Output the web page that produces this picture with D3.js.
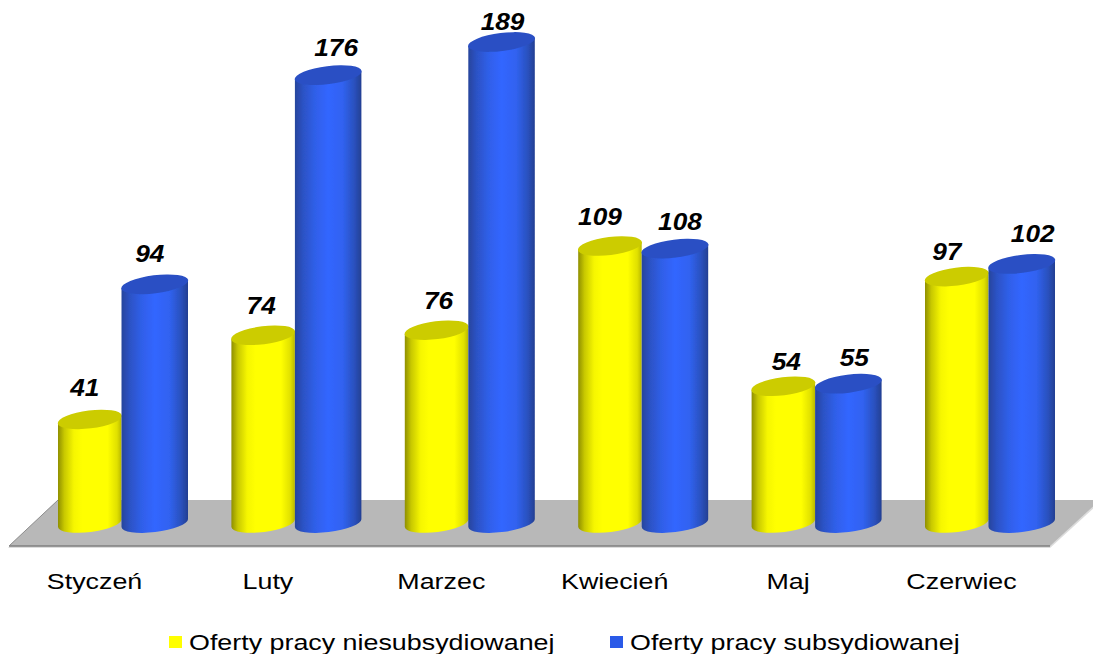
<!DOCTYPE html>
<html>
<head>
<meta charset="utf-8">
<script src="https://cdn.jsdelivr.net/npm/d3@7"></script>
<style>
    html, body { margin: 0; padding: 0; background: #fff; }
    svg { display: block; }
    text { font-family: "Liberation Sans", Arial, sans-serif; fill: #000; }
    .domain { display: none; }
</style>
</head>
<body>
<svg id="SVG_CONTAINER" width="1093" height="654"></svg>
<script>
const months = ["Styczeń", "Luty", "Marzec", "Kwiecień", "Maj", "Czerwiec"];
const seriesNames = ["Oferty pracy niesubsydiowanej", "Oferty pracy subsydiowanej"];
const unsubsidised = [41, 74, 76, 109, 54, 97];
const subsidised = [94, 176, 189, 108, 55, 102];

// hand placed value labels in the original, nudges from the top of each cylinder
const labelDxUnsub = [-5, -2, 2, -10, 3, -10];
const labelDxSub = [-5, 8, 1, 5, 6, 11];
const labelDyUnsub = [-3, -1, -1, -1, 4, 3];
const labelDySub = [-2, 1, 8, 1, 2, -2];

const width = 1093, height = 654;
const floorTop = 500, floorBottom = 546;
const baseY = 524, topY = 42;
const tilt = 8;   // how much the ellipses rise from left to right
const ry = 9;

const svg = d3.select("#SVG_CONTAINER");
const defs = svg.append("defs");

function addGradient(id, stops) {
    let g = defs.append("linearGradient").attr("id", id);
    stops.forEach(s => g.append("stop").attr("offset", s[0]).attr("stop-color", s[1]));
}
addGradient("yellowSide", [[0, "#8f8f00"], [0.1, "#c8c800"], [0.25, "#f6f600"], [0.38, "#ffff00"], [0.78, "#ffff00"], [0.93, "#e0e000"], [1, "#b8b800"]]);
addGradient("blueSide", [[0, "#27459c"], [0.12, "#2c52c4"], [0.3, "#2f5fe8"], [0.5, "#3366ff"], [0.72, "#3062f0"], [0.9, "#2a50bc"], [1, "#233f92"]]);

let blur = defs.append("filter").attr("id", "soft");
blur.append("feGaussianBlur").attr("stdDeviation", 0.4);

// the original text is stretched sideways, so fit it to a wider length
function stretch(sel, factor) {
    sel.each(function () {
        let len = this.getComputedTextLength();
        d3.select(this).attr("textLength", len * factor).attr("lengthAdjust", "spacingAndGlyphs");
    });
}

const xMonth = d3.scaleBand().domain(months).range([58, 1052]).paddingInner(0.2676);
const xSeries = d3.scaleBand().domain([0, 1]).range([0, xMonth.bandwidth()]);
const y = d3.scaleLinear().domain([0, 189]).range([baseY, topY]);

//floor
const floor = svg.append("g");
floor.append("path")
    .attr("d", d3.line()([[8, floorBottom + 2], [1050, floorBottom + 2], [1096, floorTop + 6], [1096, floorTop], [58, floorTop]]) + "Z")
    .attr("fill", "#dcdcdc");
floor.append("path")
    .attr("d", d3.line()([[9, floorBottom], [1050, floorBottom], [1100, floorTop], [58, floorTop]]) + "Z")
    .attr("fill", "#b8b8b8");
floor.append("line")
    .attr("x1", 9).attr("x2", 1050)
    .attr("y1", floorBottom).attr("y2", floorBottom)
    .attr("stroke", "#7f7f7f").attr("stroke-width", 1.5);
floor.append("line")
    .attr("x1", 9).attr("x2", 58)
    .attr("y1", floorBottom).attr("y2", floorTop)
    .attr("stroke", "#8c8c8c");

//cylinders
const rows = [];
months.forEach((m, i) => {
    rows.push({month: m, s: 0, value: unsubsidised[i], dx: labelDxUnsub[i], dy: labelDyUnsub[i]});
    rows.push({month: m, s: 1, value: subsidised[i], dx: labelDxSub[i], dy: labelDySub[i]});
});

const w = d => xSeries.bandwidth() + (d.s === 1 ? 3 : 0);
const left = d => xMonth(d.month) + xSeries(d.s);
const rot = -Math.atan2(tilt, xSeries.bandwidth()) * 180 / Math.PI;

const bars = svg.append("g").selectAll("g").data(rows).enter().append("g").attr("filter", "url(#soft)");

bars.append("path")
    .attr("fill", d => d.s === 0 ? "url(#yellowSide)" : "url(#blueSide)")
    .attr("d", d => {
        let x0 = left(d), x1 = x0 + w(d), r = w(d) / 2;
        let t = y(d.value), b = baseY - 1;
        return "M" + x0 + "," + (t + tilt / 2)
            + "L" + x0 + "," + (b + tilt / 2)
            + "A" + r + "," + ry + " " + rot + " 0 0 " + x1 + "," + (b - tilt / 2)
            + "L" + x1 + "," + (t - tilt / 2)
            + "Z";
    });

bars.append("ellipse")
    .attr("rx", d => w(d) / 2 + 0.5)
    .attr("ry", ry)
    .attr("transform", d => "translate(" + (left(d) + w(d) / 2) + "," + y(d.value) + ") rotate(" + rot + ")")
    .attr("fill", d => d.s === 0 ? "#cccc00" : "#2a50c4");

//value labels
svg.append("g").selectAll("text").data(rows).enter().append("text")
    .attr("x", d => left(d) + w(d) / 2 + d.dx)
    .attr("y", d => y(d.value) - 20 + d.dy)
    .attr("text-anchor", "middle")
    .attr("font-size", 23)
    .attr("font-weight", "bold")
    .attr("font-style", "italic")
    .call(s => s.text(d => d.value))
    .call(stretch, 1.14);

//month labels
const xAxis = d3.axisBottom(xMonth).tickSize(0).tickPadding(0);
svg.append("g")
    .attr("transform", "translate(-27,568)")
    .call(xAxis)
    .call(g => g.selectAll("text")
        .attr("font-size", 22)
        .attr("dy", 0)
        .attr("y", 21)
        .style("font-family", "'Liberation Sans', Arial, sans-serif")
        .call(stretch, 1.22));

//legend
const legendX = [169, 610];
const legend = svg.append("g").selectAll("g").data(seriesNames).enter().append("g")
    .attr("transform", (d, i) => "translate(" + legendX[i] + ",636)");
legend.append("rect")
    .attr("width", 13).attr("height", 12)
    .attr("fill", (d, i) => i === 0 ? "#ffff00" : "#2a5ae8");
legend.append("text")
    .attr("x", 20).attr("y", 14)
    .attr("font-size", 22)
    .call(s => s.text(d => d))
    .call(stretch, 1.22);
</script>
</body>
</html>
